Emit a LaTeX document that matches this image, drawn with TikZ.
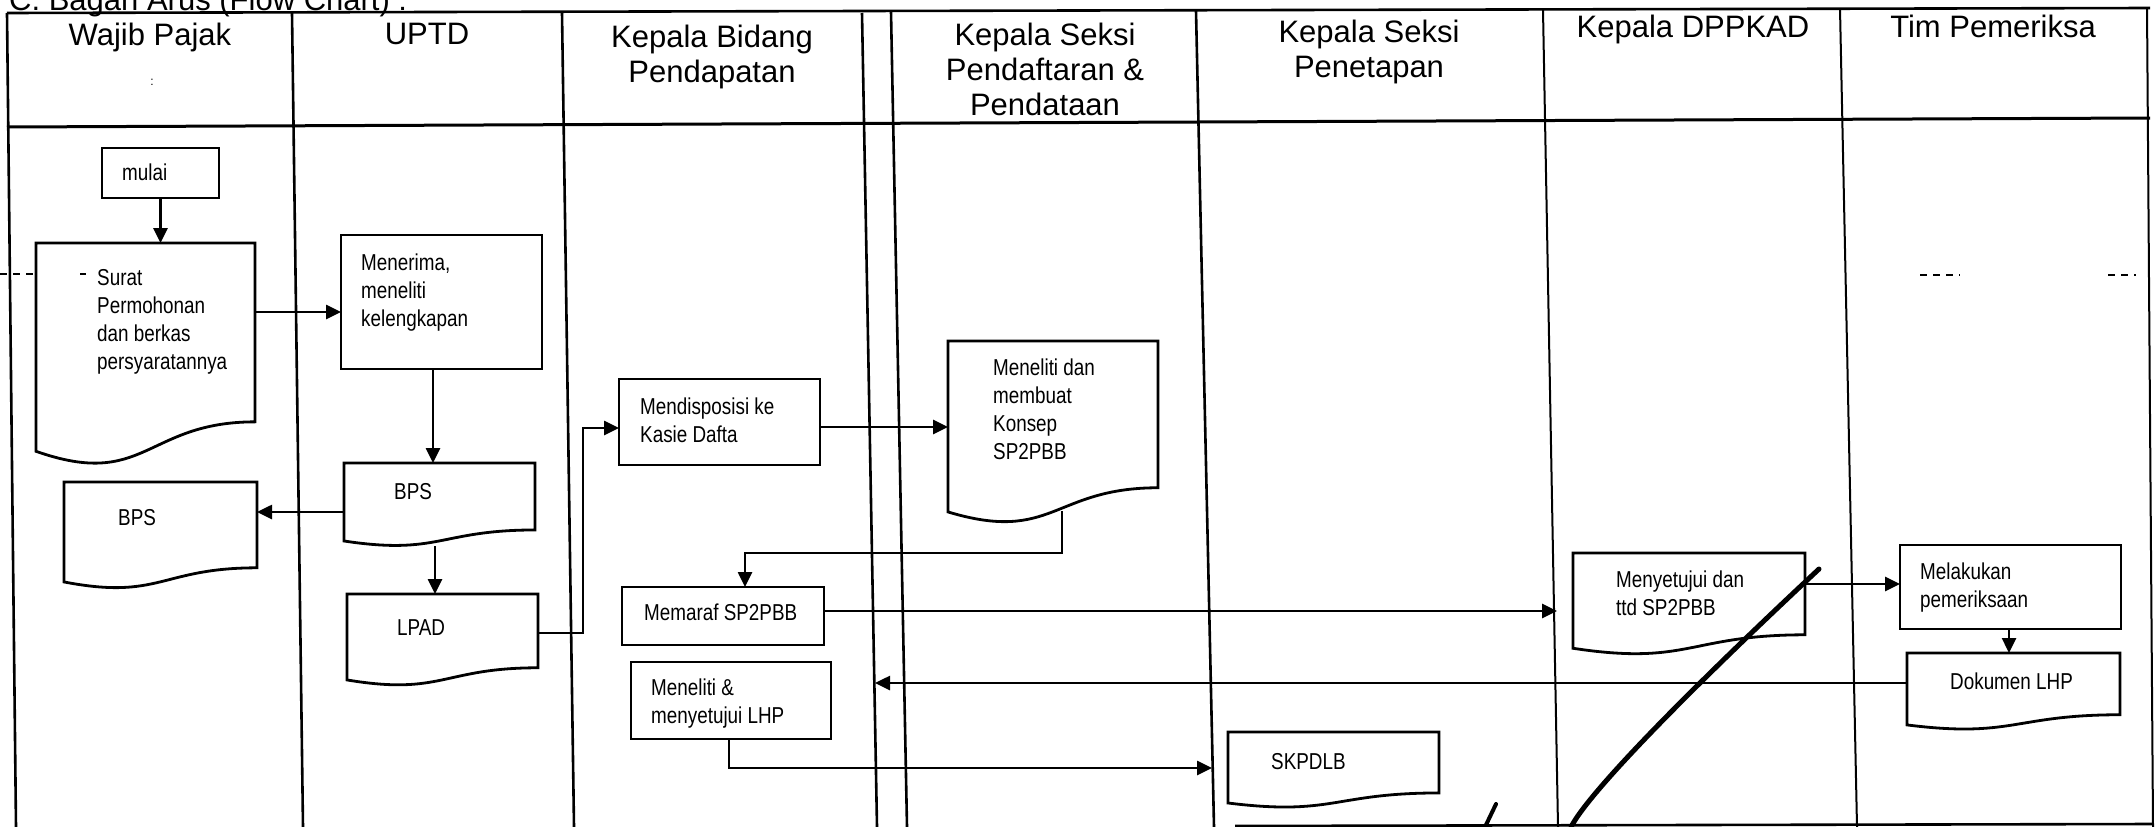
\documentclass[tikz,border=0pt]{standalone}
\usepackage{fontspec}
\setmainfont{Liberation Sans}
\newfontfamily\narrowfont[FakeStretch=0.82]{Liberation Sans}
\usetikzlibrary{arrows.meta,calc}
\tikzset{
  frame/.style={line width=2.6pt},
  thinframe/.style={line width=2pt},
  headline/.style={line width=3pt},
  boxline/.style={line width=2.8pt},
  rectbox/.style 2 args={draw, line width=2.8pt, inner sep=0pt, outer sep=0pt, minimum width=#1pt, minimum height=#2pt},
  docbox/.style 2 args={inner sep=0pt, outer sep=0pt, minimum width=#1pt, minimum height=#2pt},
  txt/.style={font=\narrowfont\fontsize{23}{28}\selectfont, inner sep=0pt, anchor=north west, align=left},
  hdr/.style={font=\fontsize{31}{35}\selectfont, inner sep=0pt, anchor=north, align=center},
  arr/.style={line width=2.6pt, -{Triangle[length=15pt,width=14pt]}},
  stroke/.style={line width=5pt, line cap=round},
  scanmark/.style={line width=1.4pt, dash pattern=on 7pt off 6pt}
}
\newcommand\docoutline[1]{%
  \draw[boxline] (#1.north west) -- (#1.north east) -- ($(#1.north east)!0.802!(#1.south east)$)
    .. controls ($(#1.north)!0.802!(#1.south)$) and ($(#1.north)!1.107!(#1.south)$) ..
    ($(#1.north west)!0.934!(#1.south west)$) -- cycle;}
\begin{document}
\begin{tikzpicture}[x=1pt,y=-1pt]
\useasboundingbox (0,0) rectangle (2155,827);
\fill[white] (0,0) rectangle (2155,827);

% title (cut off at top, as in the scan)
\node[font=\fontsize{31}{36}\selectfont, inner sep=0pt, anchor=base west] (title) at (9,10) {C. Bagan Arus (Flow Chart) :};

% frame and lanes
\draw[frame] (7,13) -- (2150,8);
\draw[frame] (7,13) -- (16,827);
\draw[frame] (292,13) -- (303,827);
\draw[frame] (562,13) -- (574,827);
\draw[frame] (862,13) -- (877,827);
\draw[frame] (891,12) -- (907,827);
\draw[frame] (1196,11) -- (1214,827);
\draw[thinframe] (1543,10) -- (1558,827);
\draw[thinframe] (1840,9) -- (1857,827);
\draw[thinframe] (2147,8) -- (2153,827);
\draw[headline] (7,127) -- (2150,118);
\draw[frame] (1235,826) -- (2153,824);

% scan marks
\draw[scanmark] (0,274) -- (36,274);
\draw[line width=1.4pt] (80,274) -- (86,274);
\draw[scanmark] (1920,275) -- (1960,275);
\draw[scanmark] (2108,275) -- (2136,275);

% headers
\node[hdr] (h1) at (150,23) {Wajib Pajak};
\node[font=\fontsize{12}{12}\selectfont, inner sep=0pt] (colon) at (152,82) {:};
\node[hdr] (h2) at (427,23) {UPTD};
\node[hdr] (h3) at (712,25) {Kepala Bidang\\Pendapatan};
\node[hdr] (h4) at (1045,23) {Kepala Seksi\\Pendaftaran \&\\Pendataan};
\node[hdr] (h5) at (1369,20) {Kepala Seksi\\Penetapan};
\node[hdr] (h6) at (1693,15) {Kepala DPPKAD};
\node[hdr] (h7) at (1993,15) {Tim Pemeriksa};

% boxes
\node[rectbox={117}{50}] (mulai) at (160.5,173) {};
\node[txt] (mulai-t) at (122,164) {mulai};

\node[docbox={219}{223}] (surat) at (145.5,354.5) {};
\docoutline{surat}
\node[txt] (surat-t) at (97,269) {Surat\\Permohonan\\dan berkas\\persyaratannya};

\node[rectbox={201}{134}] (menerima) at (441.5,302) {};
\node[txt] (menerima-t) at (361,254) {Menerima,\\meneliti\\kelengkapan};

\node[docbox={191}{83.5}] (bpsu) at (439.5,504.75) {};
\docoutline{bpsu}
\node[txt] (bpsu-t) at (394,483) {BPS};

\node[docbox={193}{107}] (bpsw) at (160.5,535.5) {};
\docoutline{bpsw}
\node[txt] (bpsw-t) at (118,509) {BPS};

\node[docbox={191}{92}] (lpad) at (442.5,640) {};
\docoutline{lpad}
\node[txt] (lpad-t) at (397,619) {LPAD};

\node[rectbox={201}{86}] (mendisp) at (719.5,422) {};
\node[txt] (mendisp-t) at (640,398) {Mendisposisi ke\\Kasie Dafta};

\node[docbox={210}{183}] (meneliti) at (1053,432.5) {};
\docoutline{meneliti}
\node[txt] (meneliti-t) at (993,359) {Meneliti dan\\membuat\\Konsep\\SP2PBB};

\node[rectbox={202}{58}] (memaraf) at (723,616) {};
\node[txt] (memaraf-t) at (644,604) {Memaraf SP2PBB};

\node[rectbox={200}{77}] (menlhp) at (731,700.5) {};
\node[txt] (menlhp-t) at (651,679) {Meneliti \&\\menyetujui LHP};

\node[docbox={211}{76}] (skpdlb) at (1333.5,770) {};
\docoutline{skpdlb}
\node[txt] (skpdlb-t) at (1271,753) {SKPDLB};

\node[docbox={232}{102}] (menyetujui) at (1689,604) {};
\docoutline{menyetujui}
\node[txt] (menyetujui-t) at (1616,571) {Menyetujui dan\\ttd SP2PBB};

\node[rectbox={221}{84}] (melakukan) at (2010.5,587) {};
\node[txt] (melakukan-t) at (1920,563) {Melakukan\\pemeriksaan};

\node[docbox={213}{77}] (dokumen) at (2013.5,691.5) {};
\docoutline{dokumen}
\node[txt] (dokumen-t) at (1950,673) {Dokumen LHP};

% connector lanes
\coordinate (cb) at (0,312);
\coordinate (cc) at (433,0);
\coordinate (cd) at (0,512);
\coordinate (ce) at (435,546);
\coordinate (f1) at (583,633);
\coordinate (f2) at (583,428);
\coordinate (cg) at (0,427);
\coordinate (h0) at (1062,511);
\coordinate (h1) at (1062,553);
\coordinate (h2) at (745,553);
\coordinate (ci) at (0,611);
\coordinate (cj) at (0,584);
\coordinate (ck) at (2009,0);
\coordinate (cl) at (0,683);
\coordinate (m1) at (729,768);

% connectors
\draw[arr] (mulai.south) -- (mulai.south |- surat.north);
\draw[arr] (surat.east |- cb) -- (menerima.west |- cb);
\draw[arr] (menerima.south -| cc) -- (bpsu.north -| cc);
\draw[arr] (bpsu.west |- cd) -- (bpsw.east |- cd);
\draw[arr] (ce) -- (lpad.north -| ce);
\draw[arr] (lpad.east |- f1) -- (f1) -- (f2) -- (mendisp.west |- f2);
\draw[arr] (mendisp.east |- cg) -- (meneliti.west |- cg);
\draw[arr] (h0) -- (h1) -- (h2) -- (memaraf.north -| h2);
\draw[arr] (memaraf.east |- ci) -- ([xshift=-16pt]menyetujui.west |- ci);
\draw[arr] (menyetujui.east |- cj) -- (melakukan.west |- cj);
\draw[arr] (melakukan.south -| ck) -- (dokumen.north -| ck);
\draw[arr] (dokumen.west |- cl) -- ([xshift=44pt]menlhp.east |- cl);
\draw[arr] (menlhp.south -| m1) -- (m1) -- ([xshift=-16pt]skpdlb.west |- m1);

% handwritten strokes
\draw[stroke] (1819,569) .. controls (1700,680) and (1590,790) .. (1571,827);
\draw[line width=4pt, line cap=round] (1496,804) -- (1485,827);
\end{tikzpicture}
\end{document}
